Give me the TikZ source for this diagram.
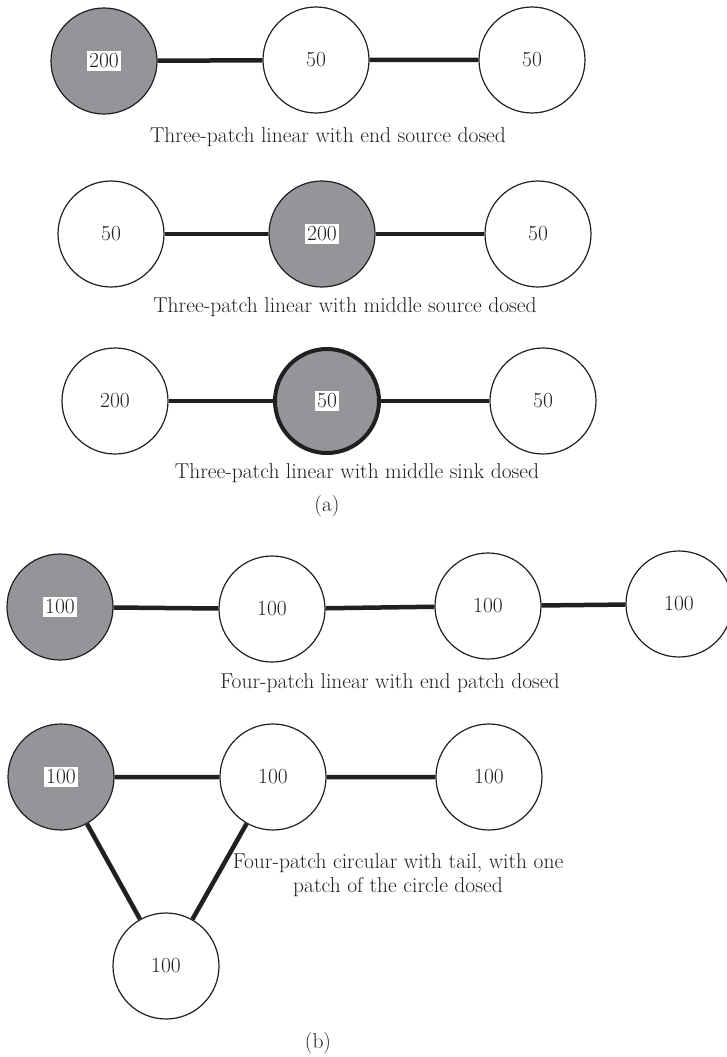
\documentclass[tikz,border=0pt]{standalone}
\usepackage{tikz}

\definecolor{dosegray}{RGB}{148,149,153}
\definecolor{ink}{RGB}{35,31,32}
\setlength{\fboxsep}{2.5pt}
\newcommand{\dose}[1]{\colorbox{white}{#1}}

\begin{document}
\begin{tikzpicture}
[x=1pt,y=-1pt,%
  every node/.style={font=\fontsize{21.5}{24}\selectfont,text=ink},%
  patch/.style={draw=ink,circle,line width=1.2pt,minimum size=106pt,inner sep=0pt,fill=white},%
  dosed/.style={fill=dosegray},%
  sink/.style={line width=4pt,minimum size=104pt},%
  link/.style={draw=ink,line width=4.5pt},%
  caption/.style={align=center}]
\useasboundingbox (0,0) rectangle (726,1057);

%% (a) three-patch systems
\node[patch,dosed] (a1) at (104,61) {\dose{200}};
\node[patch] (a2) at (316,60) {50};
\node[patch] (a3) at (532,60) {50};
\draw[link] (a1) -- (a2) (a2) -- (a3);
\node[caption] (ca) at (328,137) {Three-patch linear with end source dosed};

\node[patch] (b1) at (111,234) {50};
\node[patch,dosed] (b2) at (322,234) {\dose{200}};
\node[patch] (b3) at (538,234) {50};
\draw[link] (b1) -- (b2) (b2) -- (b3);
\node[caption] (cb) at (345,307) {Three-patch linear with middle source dosed};

\node[patch] (c1) at (115,401) {200};
\node[patch,dosed,sink] (c2) at (327,401) {\dose{50}};
\node[patch] (c3) at (543,401) {50};
\draw[link] (c1) -- (c2) (c2) -- (c3);
\node[caption] (cc) at (357,473) {Three-patch linear with middle sink dosed};
\node (pa) at (327,506) {(a)};

%% (b) four-patch systems
\node[patch,dosed] (d1) at (60,607) {\dose{100}};
\node[patch] (d2) at (272,609) {100};
\node[patch] (d3) at (488,606) {100};
\node[patch] (d4) at (679,604) {100};
\draw[link] (d1) -- (d2) (d2) -- (d3) (d3) -- (d4);
\node[caption] (cd) at (390,683) {Four-patch linear with end patch dosed};

\node[patch,dosed] (e1) at (61,777) {\dose{100}};
\node[patch] (e2) at (273,777) {100};
\node[patch] (e3) at (489,777) {100};
\node[patch] (e4) at (166,966) {100};
\draw[link] (e1) -- (e2) (e2) -- (e3) (e1) -- (e4) (e2) -- (e4);
\node[caption] (ce) at (398,875) {Four-patch circular with tail, with one\\patch of the circle dosed};
\node (pb) at (318,1043) {(b)};
\end{tikzpicture}
\end{document}
